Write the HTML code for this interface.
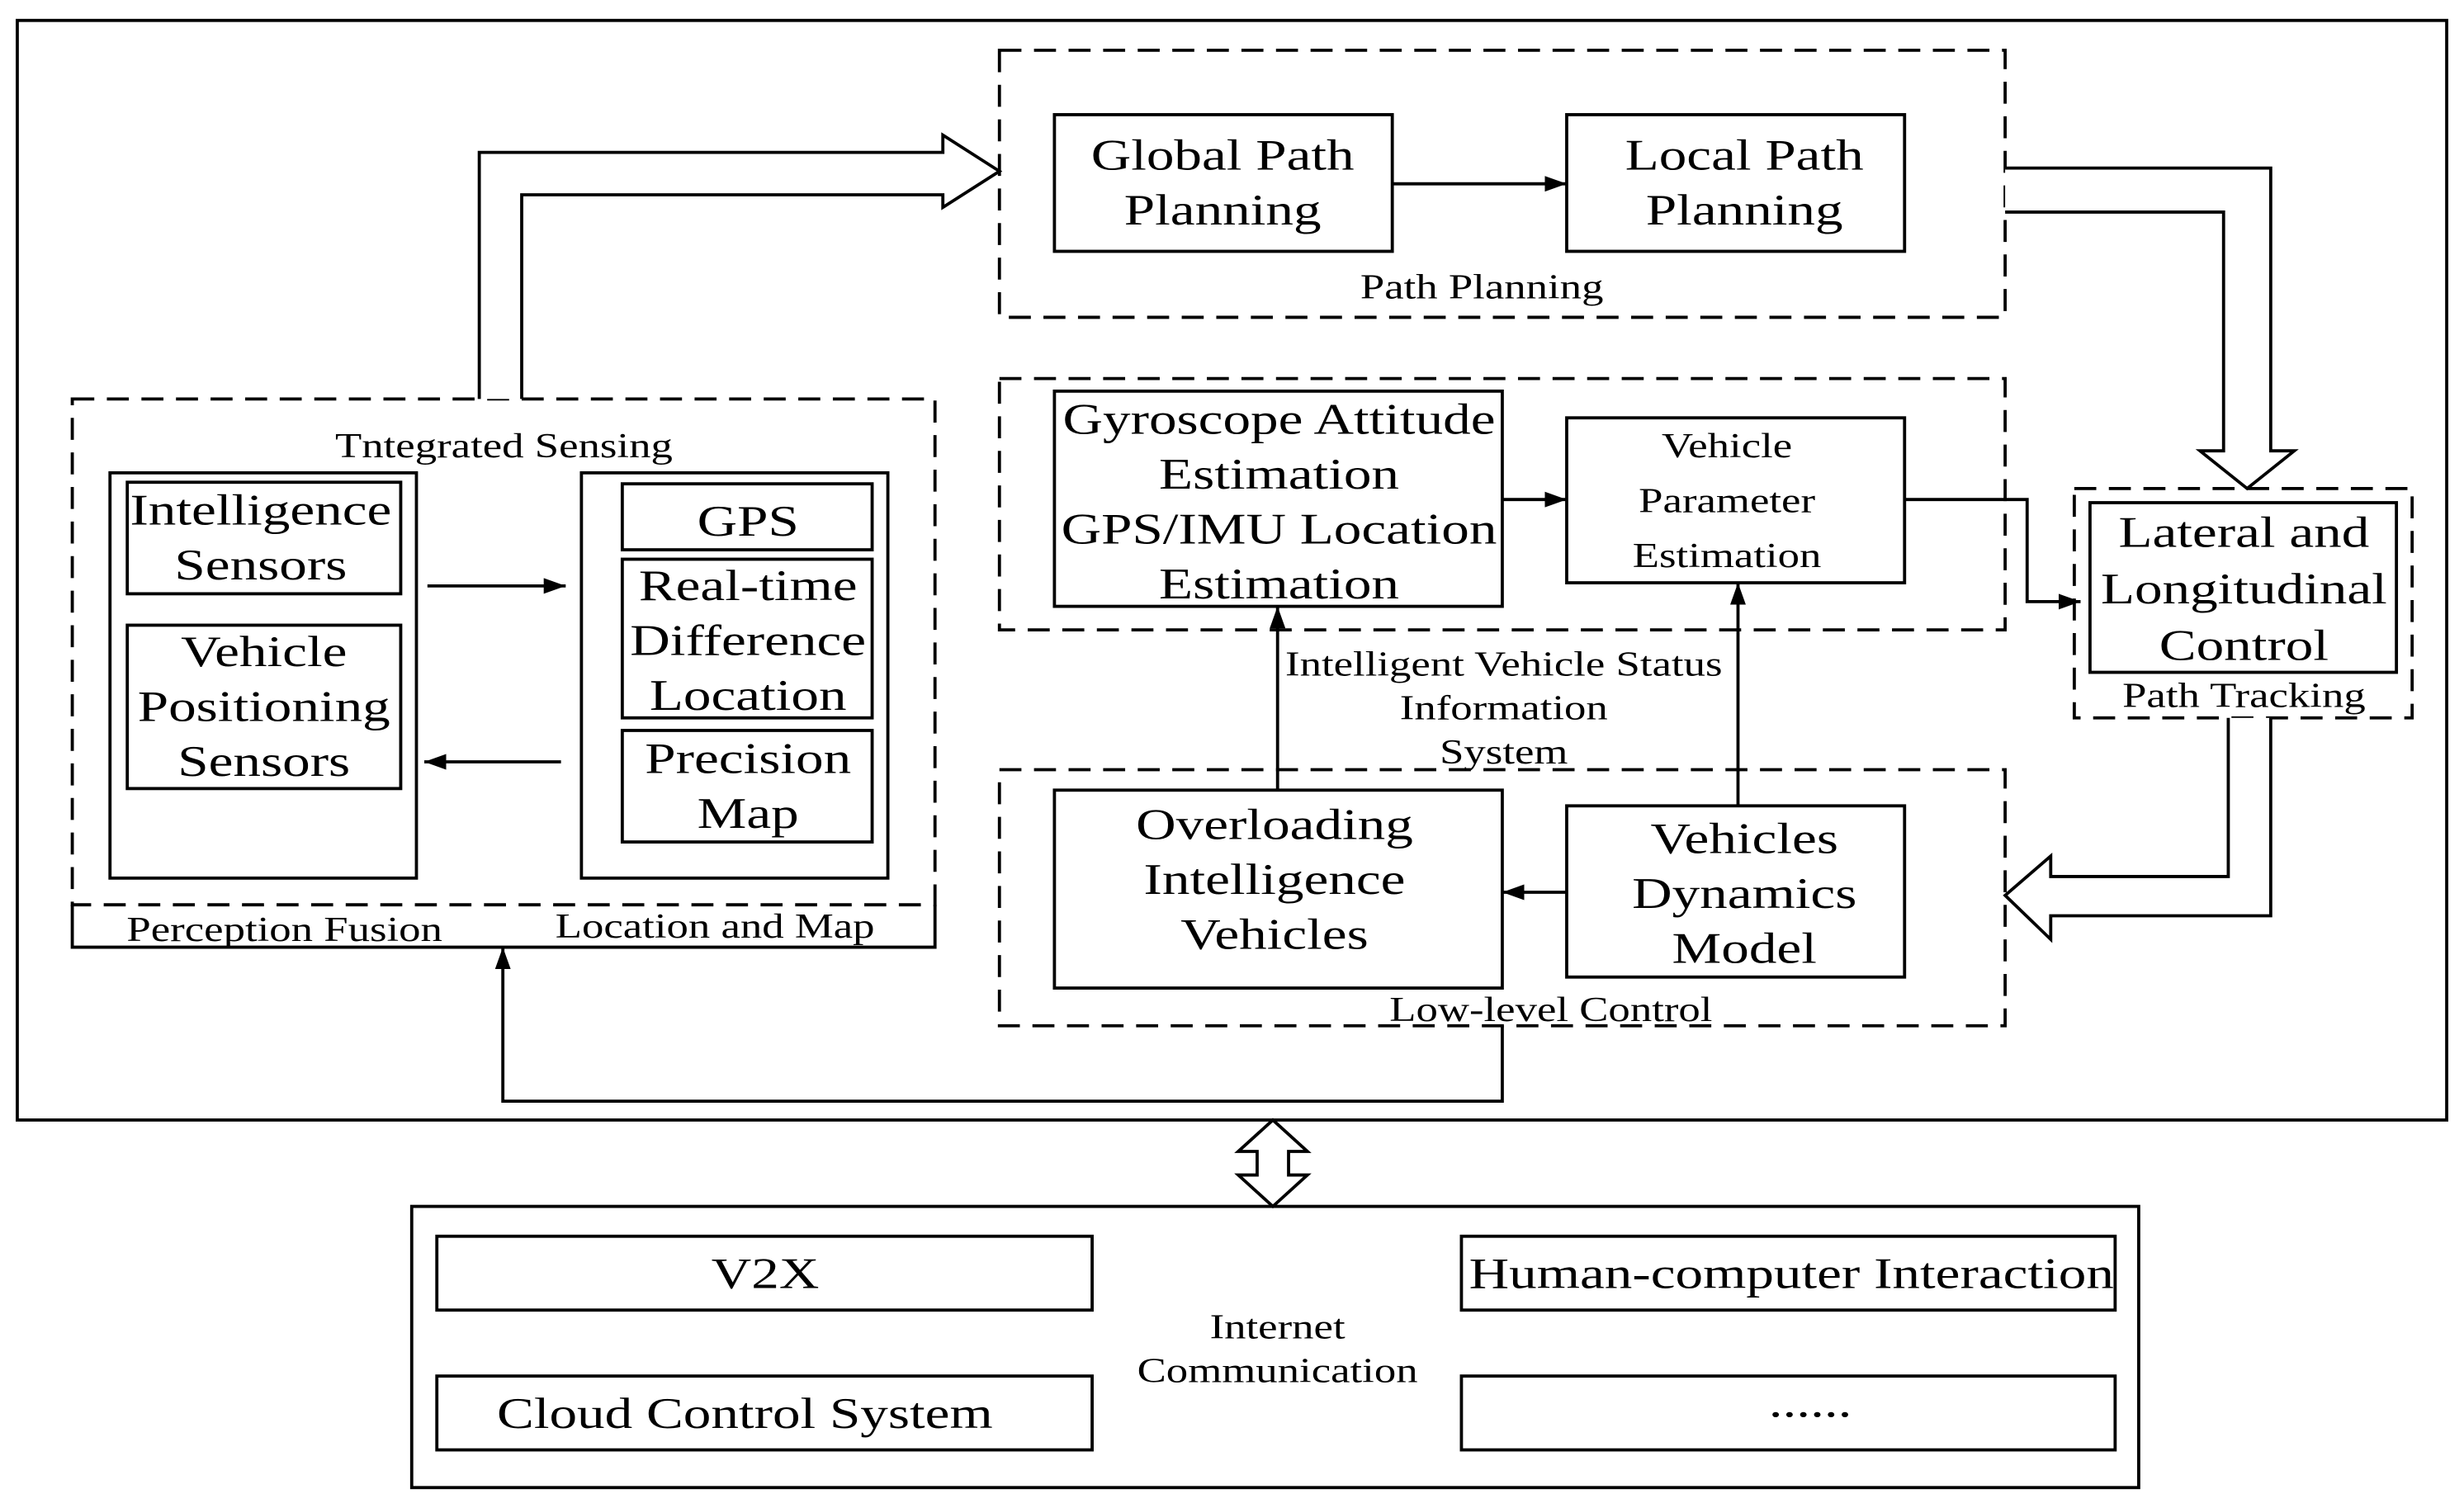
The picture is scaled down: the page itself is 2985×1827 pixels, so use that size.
<!DOCTYPE html>
<html><head><meta charset="utf-8"><style>
html,body{margin:0;padding:0;background:#fff;}
svg{display:block;}
text{font-family:"Liberation Serif",serif;fill:#000;}
.b{font-size:28px;}
.s{font-size:22px;}
</style></head><body>
<svg width="2985" height="1827" viewBox="0 0 1568 960" preserveAspectRatio="none" xmlns="http://www.w3.org/2000/svg">
<defs><marker id="ah2" markerWidth="14" markerHeight="10" refX="14" refY="5" orient="auto" markerUnits="userSpaceOnUse"><path d="M0,0 L14,5 L0,10 z" fill="#000"/></marker></defs>
<g fill="none" stroke="#000" stroke-width="2">
<rect x="11" y="13" width="1546" height="700"/>
<g stroke-dasharray="14,8">
<rect x="636" y="32" width="640" height="170"/>
<rect x="636" y="241" width="640" height="160"/>
<rect x="636" y="490" width="640" height="163"/>
<rect x="1320" y="311" width="215" height="146"/>
<rect x="46" y="254" width="549" height="322"/>
</g>
<path d="M46,576 V603 H595 V576"/>
<rect x="671" y="73" width="215" height="87"/>
<rect x="997" y="73" width="215" height="87"/>
<rect x="671" y="249" width="285" height="137"/>
<rect x="997" y="266" width="215" height="105"/>
<rect x="671" y="503" width="285" height="126"/>
<rect x="997" y="513" width="215" height="109"/>
<rect x="1330" y="320" width="195" height="108"/>
<rect x="70" y="301" width="195" height="258"/>
<rect x="81" y="307" width="174" height="71"/>
<rect x="81" y="398" width="174" height="104"/>
<rect x="370" y="301" width="195" height="258"/>
<rect x="396" y="308" width="159" height="42"/>
<rect x="396" y="356" width="159" height="101"/>
<rect x="396" y="465" width="159" height="71"/>
<rect x="262" y="768" width="1099" height="179"/>
<rect x="278" y="787" width="417" height="47"/>
<rect x="278" y="876" width="417" height="47"/>
<rect x="930" y="787" width="416" height="47"/>
<rect x="930" y="876" width="416" height="47"/>
<line x1="886" y1="117" x2="997" y2="117" marker-end="url(#ah2)"/>
<line x1="956" y1="318" x2="997" y2="318" marker-end="url(#ah2)"/>
<line x1="997" y1="568" x2="956" y2="568" marker-end="url(#ah2)"/>
<line x1="813" y1="503" x2="813" y2="386" marker-end="url(#ah2)"/>
<line x1="1106" y1="513" x2="1106" y2="371" marker-end="url(#ah2)"/>
<polyline points="1212,318 1290,318 1290,383 1324,383" marker-end="url(#ah2)"/>
<line x1="272" y1="373" x2="360" y2="373" marker-end="url(#ah2)"/>
<line x1="357" y1="485" x2="270" y2="485" marker-end="url(#ah2)"/>
<polyline points="956,653 956,701 320,701 320,603" marker-end="url(#ah2)"/>
<path d="M1276,107 H1445 V287 H1460 L1430,311 L1400,287 H1415 V135 H1276" fill="#fff"/>
<path d="M1445,457 V583 H1305 V598 L1276,570 L1305,545 V558 H1418 V457" fill="#fff"/>
<path d="M305,254 V97 H600 V86 L636,109 L600,132 V124 H332 V254" fill="#fff"/>
<path d="M810,713 L832,733 H820 V748 H832 L810,768 L788,748 H800 V733 H788 Z" fill="#fff"/>
</g>
<g text-anchor="middle" transform="scale(1.26,1)">
<text class="b" x="617.5" y="108">Global Path</text><text class="b" x="617.5" y="143">Planning</text>
<text class="b" x="881" y="108">Local Path</text><text class="b" x="881" y="143">Planning</text>
<text class="s" x="748.4" y="190">Path Planning</text>
<text class="b" x="646" y="276">Gyroscope Attitude</text><text class="b" x="646" y="311">Estimation</text><text class="b" x="646" y="346">GPS/IMU Location</text><text class="b" x="646" y="381">Estimation</text>
<text class="s" x="872.2" y="291">Vehicle</text><text class="s" x="872.2" y="326">Parameter</text><text class="s" x="872.2" y="361">Estimation</text>
<text class="s" x="759.5" y="430">Intelligent Vehicle Status</text><text class="s" x="759.5" y="458">Information</text><text class="s" x="759.5" y="486">System</text>
<text class="b" x="643.7" y="534">Overloading</text><text class="b" x="643.7" y="569">Intelligence</text><text class="b" x="643.7" y="604">Vehicles</text>
<text class="b" x="881" y="543">Vehicles</text><text class="b" x="881" y="578">Dynamics</text><text class="b" x="881" y="613">Model</text>
<text class="s" x="783.3" y="650">Low-level Control</text>
<text class="b" x="1133.3" y="348">Lateral and</text><text class="b" x="1133.3" y="384">Longitudinal</text><text class="b" x="1133.3" y="420">Control</text>
<text class="s" x="1133.3" y="450">Path Tracking</text>
<text class="s" x="254.5" y="291">Tntegrated Sensing</text>
<text class="b" x="131.7" y="334">Intelligence</text><text class="b" x="131.7" y="369">Sensors</text>
<text class="b" x="133.3" y="424">Vehicle</text><text class="b" x="133.3" y="459">Positioning</text><text class="b" x="133.3" y="494">Sensors</text>
<text class="b" x="377.8" y="341">GPS</text>
<text class="b" x="377.8" y="382">Real-time</text><text class="b" x="377.8" y="417">Difference</text><text class="b" x="377.8" y="452">Location</text>
<text class="b" x="377.8" y="492">Precision</text><text class="b" x="377.8" y="527">Map</text>
<text class="s" x="143.7" y="599">Perception Fusion</text>
<text class="s" x="361.1" y="597">Location and Map</text>
<text class="b" x="386.5" y="820">V2X</text>
<text class="b" x="376.2" y="909">Cloud Control System</text>
<text class="b" x="904.8" y="820">Human-computer Interaction</text>
<text class="b" x="914.3" y="902">......</text>
<text class="s" x="645.2" y="852">Internet</text><text class="s" x="645.2" y="880">Communication</text>
</g>
</svg>
</body></html>
